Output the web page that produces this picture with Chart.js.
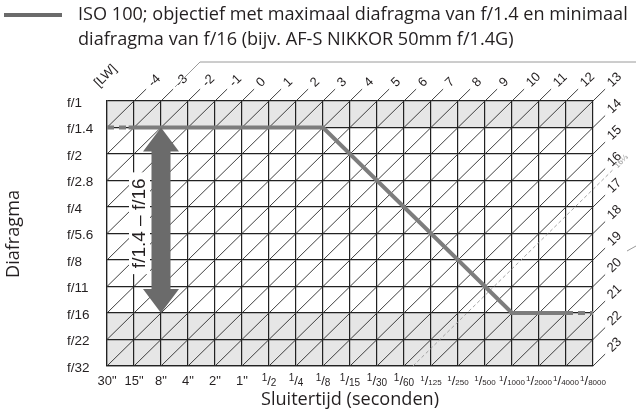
<!DOCTYPE html>
<html>
<head>
<meta charset="utf-8">
<script src="https://cdn.jsdelivr.net/npm/chart.js@4.4.0/dist/chart.umd.min.js"></script>
<style>
html, body { margin: 0; padding: 0; background: #fff; }
#wrap { width: 636px; height: 414px; }
</style>
</head>
<body>
<div id="wrap"><canvas id="chart" width="636" height="414"></canvas></div>
<script>
// Sluitertijden (kolommen) en diafragma's (rijen)
const shutterLabels = ['30"', '15"', '8"', '4"', '2"', '1"', '1/2', '1/4', '1/8', '1/15', '1/30', '1/60',
    '1/125', '1/250', '1/500', '1/1000', '1/2000', '1/4000', '1/8000'];
const apertureLabels = ['f/1', 'f/1.4', 'f/2', 'f/2.8', 'f/4', 'f/5.6', 'f/8', 'f/11', 'f/16', 'f/22', 'f/32'];

// LW-lijnen: LW in de hoek linksboven (30", f/1) tot LW in de hoek rechtsonder
const evStart = -5;
const evEnd = 23;
const evDashed = 16 + 1 / 3;
const evDashedLabel = '16⅓';

// Programmalijn (index sluitertijd, index diafragma)
const programX = [0, 0.8, 8, 15, 17, 18];
const programY = [1, 1, 1, 8, 8, 8];
const programDashed = [0, 4];   // gestippelde segmenten

// Diafragmabereik van het objectief en grijze zones
const lensRange = [1, 8];       // f/1.4 – f/16
const lensArrowColumn = 2;      // bij 8"
const shadedRows = [[0, 1], [8, 10]];

const titleLines = ['ISO 100; objectief met maximaal diafragma van f/1.4 en minimaal',
    'diafragma van f/16 (bijv. AF-S NIKKOR 50mm f/1.4G)'];
const rangeText = 'f/1.4 – f/16';
const xTitle = 'Sluitertijd (seconden)';
const yTitle = 'Diafragma';

const INK = '#231f20';
const TICK_FONT = '"Liberation Sans", Arial, sans-serif';
const TITLE_FONT = '"Open Sans", Lato, sans-serif';

function drawShutterLabel(ctx, label, x, y) {
    ctx.fillStyle = INK;
    ctx.textBaseline = 'middle';
    if (!label.startsWith('1/')) {
        ctx.font = '13px ' + TICK_FONT;
        ctx.textAlign = 'center';
        ctx.fillText(label, x, y);
        return;
    }
    const den = label.slice(2);
    const small = (den.length > 2 ? 8 : 10) + 'px ' + TICK_FONT;
    const big = '13px ' + TICK_FONT;
    ctx.font = small;
    const wNum = ctx.measureText('1').width;
    const wDen = ctx.measureText(den).width;
    ctx.font = big;
    const wSlash = ctx.measureText('/').width;
    let cx = x - (wNum + wSlash + wDen) / 2;
    ctx.textAlign = 'left';
    ctx.font = small;
    ctx.fillText('1', cx, y - 2.5);
    cx += wNum;
    ctx.font = big;
    ctx.fillText('/', cx, y);
    cx += wSlash;
    ctx.font = small;
    ctx.fillText(den, cx, y + 2);
}

// lettergrootte zodat de eerste titelregel ongeveer 550 px breed is
function titleFontSize(ctx) {
    ctx.font = '17px ' + TITLE_FONT;
    const w = ctx.measureText(titleLines[0]).width;
    return Math.min(19, Math.max(15, 17 * 550 / w));
}

const decorPlugin = {
    id: 'decor',
    beforeDraw(chart) {
        const ctx = chart.ctx;
        const xs = chart.scales.x, ys = chart.scales.y;
        ctx.save();
        ctx.fillStyle = '#fff';
        ctx.fillRect(0, 0, chart.width, chart.height);
        // grijze zones
        ctx.fillStyle = '#e6e6e6';
        shadedRows.forEach(([a, b]) => {
            const y0 = ys.getPixelForValue(a), y1 = ys.getPixelForValue(b);
            ctx.fillRect(xs.left, y0, xs.right - xs.left, y1 - y0);
        });
        ctx.restore();
    },
    beforeDatasetsDraw(chart) {
        const ctx = chart.ctx;
        const xs = chart.scales.x, ys = chart.scales.y;
        const nCols = shutterLabels.length - 1;
        const nRows = apertureLabels.length - 1;
        const px = i => xs.getPixelForValue(i);
        const py = j => ys.getPixelForValue(j);
        const colW = px(1) - px(0), rowH = py(1) - py(0);
        const len = Math.hypot(colW, rowH);
        const ux = colW / len, uy = -rowH / len;
        const angle = Math.atan2(-rowH, colW);

        function label(text, x, y, dist, font, color) {
            ctx.save();
            ctx.translate(x + ux * dist, y + uy * dist);
            ctx.rotate(angle);
            ctx.font = font;
            ctx.fillStyle = color;
            ctx.textAlign = 'left';
            ctx.textBaseline = 'middle';
            ctx.fillText(text, 0, 0);
            ctx.restore();
        }

        function evLine(s, ext) {
            const j0 = Math.min(s, nRows), i0 = s - j0;
            const i1 = Math.min(s, nCols), j1 = s - i1;
            const x1 = px(i1), y1 = py(j1);
            ctx.beginPath();
            ctx.moveTo(px(i0), py(j0));
            ctx.lineTo(x1 + ux * ext, y1 + uy * ext);
            ctx.stroke();
            return [x1, y1];
        }

        ctx.save();
        ctx.strokeStyle = '#2a2a2a';
        ctx.lineWidth = 0.9;
        for (let ev = evStart + 1; ev <= evEnd; ev++) {
            const [x1, y1] = evLine(ev - evStart, 17);
            label(String(ev), x1, y1, 23, '13px ' + TICK_FONT, INK);
        }
        label('[LW]', px(-1), py(0), 23, '13px ' + TICK_FONT, INK);

        // gestippelde lijn LW 16⅓
        ctx.strokeStyle = '#9a9a9a';
        ctx.lineWidth = 0.9;
        ctx.setLineDash([3.5, 2.5]);
        const [dx, dy] = evLine(evDashed - evStart, 29);
        ctx.setLineDash([]);
        label(evDashedLabel, dx, dy, 32, '8px ' + TICK_FONT, '#9a9a9a');
        ctx.restore();
    },
    afterDatasetsDraw(chart) {
        const ctx = chart.ctx;
        const xs = chart.scales.x, ys = chart.scales.y;
        const ax = xs.getPixelForValue(lensArrowColumn);
        const yTop = ys.getPixelForValue(lensRange[0]);
        const yBot = ys.getPixelForValue(lensRange[1]);
        const head = 24, headHalf = 18, shaftHalf = 9.5;

        ctx.save();
        // tekst met witte achtergrond
        const midY = (yTop + yBot) / 2 + 3;
        const tx = ax - 22;
        ctx.font = '19px ' + TICK_FONT;
        const tw = ctx.measureText(rangeText).width;
        ctx.fillStyle = '#fff';
        ctx.fillRect(tx - 10, midY - tw / 2 - 6, 21, tw + 12);
        ctx.translate(tx, midY);
        ctx.rotate(-Math.PI / 2);
        ctx.fillStyle = INK;
        ctx.textAlign = 'center';
        ctx.textBaseline = 'middle';
        ctx.fillText(rangeText, 0, 1);
        ctx.restore();

        // dubbele pijl
        ctx.save();
        ctx.fillStyle = '#6b6b6b';
        ctx.beginPath();
        ctx.moveTo(ax, yTop);
        ctx.lineTo(ax + headHalf, yTop + head);
        ctx.lineTo(ax + shaftHalf, yTop + head);
        ctx.lineTo(ax + shaftHalf, yBot - head);
        ctx.lineTo(ax + headHalf, yBot - head);
        ctx.lineTo(ax, yBot);
        ctx.lineTo(ax - headHalf, yBot - head);
        ctx.lineTo(ax - shaftHalf, yBot - head);
        ctx.lineTo(ax - shaftHalf, yTop + head);
        ctx.lineTo(ax - headHalf, yTop + head);
        ctx.closePath();
        ctx.fill();
        ctx.restore();
    },
    afterDraw(chart) {
        const ctx = chart.ctx;
        const xs = chart.scales.x, ys = chart.scales.y;
        ctx.save();
        // sluitertijden onder de as
        xs.ticks.forEach(t => {
            const lab = shutterLabels[t.value];
            if (lab !== undefined) drawShutterLabel(ctx, lab, xs.getPixelForValue(t.value), ys.bottom + 15);
        });

        // astitels
        const fs = titleFontSize(ctx);
        ctx.fillStyle = INK;
        ctx.font = fs + 'px ' + TITLE_FONT;
        ctx.textAlign = 'center';
        ctx.textBaseline = 'middle';
        ctx.fillText(xTitle, (xs.left + xs.right) / 2, 400);
        ctx.save();
        ctx.translate(14, 234);
        ctx.rotate(-Math.PI / 2);
        ctx.fillText(yTitle, 0, 0);
        ctx.restore();

        // legenda
        ctx.strokeStyle = '#6b6b6b';
        ctx.lineWidth = 4;
        ctx.beginPath();
        ctx.moveTo(4, 15);
        ctx.lineTo(62, 15);
        ctx.stroke();
        ctx.textAlign = 'left';
        ctx.fillText(titleLines[0], 78, 15);
        ctx.fillText(titleLines[1], 78, 40);

        // kaderlijnen van de pagina
        ctx.strokeStyle = '#9a9a9a';
        ctx.lineWidth = 1;
        ctx.beginPath();
        ctx.moveTo(175, 87);
        ctx.lineTo(200, 62);
        ctx.lineTo(636, 62);
        ctx.moveTo(627, 251);
        ctx.lineTo(636, 246);
        ctx.stroke();
        ctx.restore();
    }
};

const gridStyle = { color: '#222', lineWidth: 1.2, drawTicks: false, tickLength: 0 };
const borderStyle = { color: '#222', width: 1.2 };

new Chart(document.getElementById('chart'), {
    type: 'scatter',
    data: {
        datasets: [{
            data: programX.map((x, i) => ({ x: x, y: programY[i] })),
            showLine: true,
            borderColor: '#7d7d7d',
            borderWidth: 4,
            borderCapStyle: 'butt',
            borderJoinStyle: 'miter',
            pointRadius: 0,
            tension: 0,
            segment: {
                borderDash: ctx => programDashed.includes(ctx.p0DataIndex) ? [7, 5] : undefined
            }
        }]
    },
    options: {
        responsive: false,
        animation: false,
        events: [],
        layout: { padding: { left: 67, right: 43, top: 101, bottom: 48 } },
        plugins: { legend: { display: false }, tooltip: { enabled: false } },
        scales: {
            x: {
                type: 'linear',
                min: 0,
                max: shutterLabels.length - 1,
                ticks: { stepSize: 1, display: false },
                grid: gridStyle,
                border: borderStyle,
                afterFit: s => { s.height = 0; }
            },
            y: {
                type: 'linear',
                min: 0,
                max: apertureLabels.length - 1,
                reverse: true,
                ticks: {
                    stepSize: 1,
                    autoSkip: false,
                    crossAlign: 'far',
                    padding: 0,
                    labelOffset: 2,
                    color: INK,
                    font: { family: TICK_FONT, size: 13.5 },
                    callback: v => apertureLabels[v]
                },
                grid: gridStyle,
                border: borderStyle,
                afterFit: s => { s.width = 40; }
            }
        }
    },
    plugins: [decorPlugin]
});
</script>
</body>
</html>
